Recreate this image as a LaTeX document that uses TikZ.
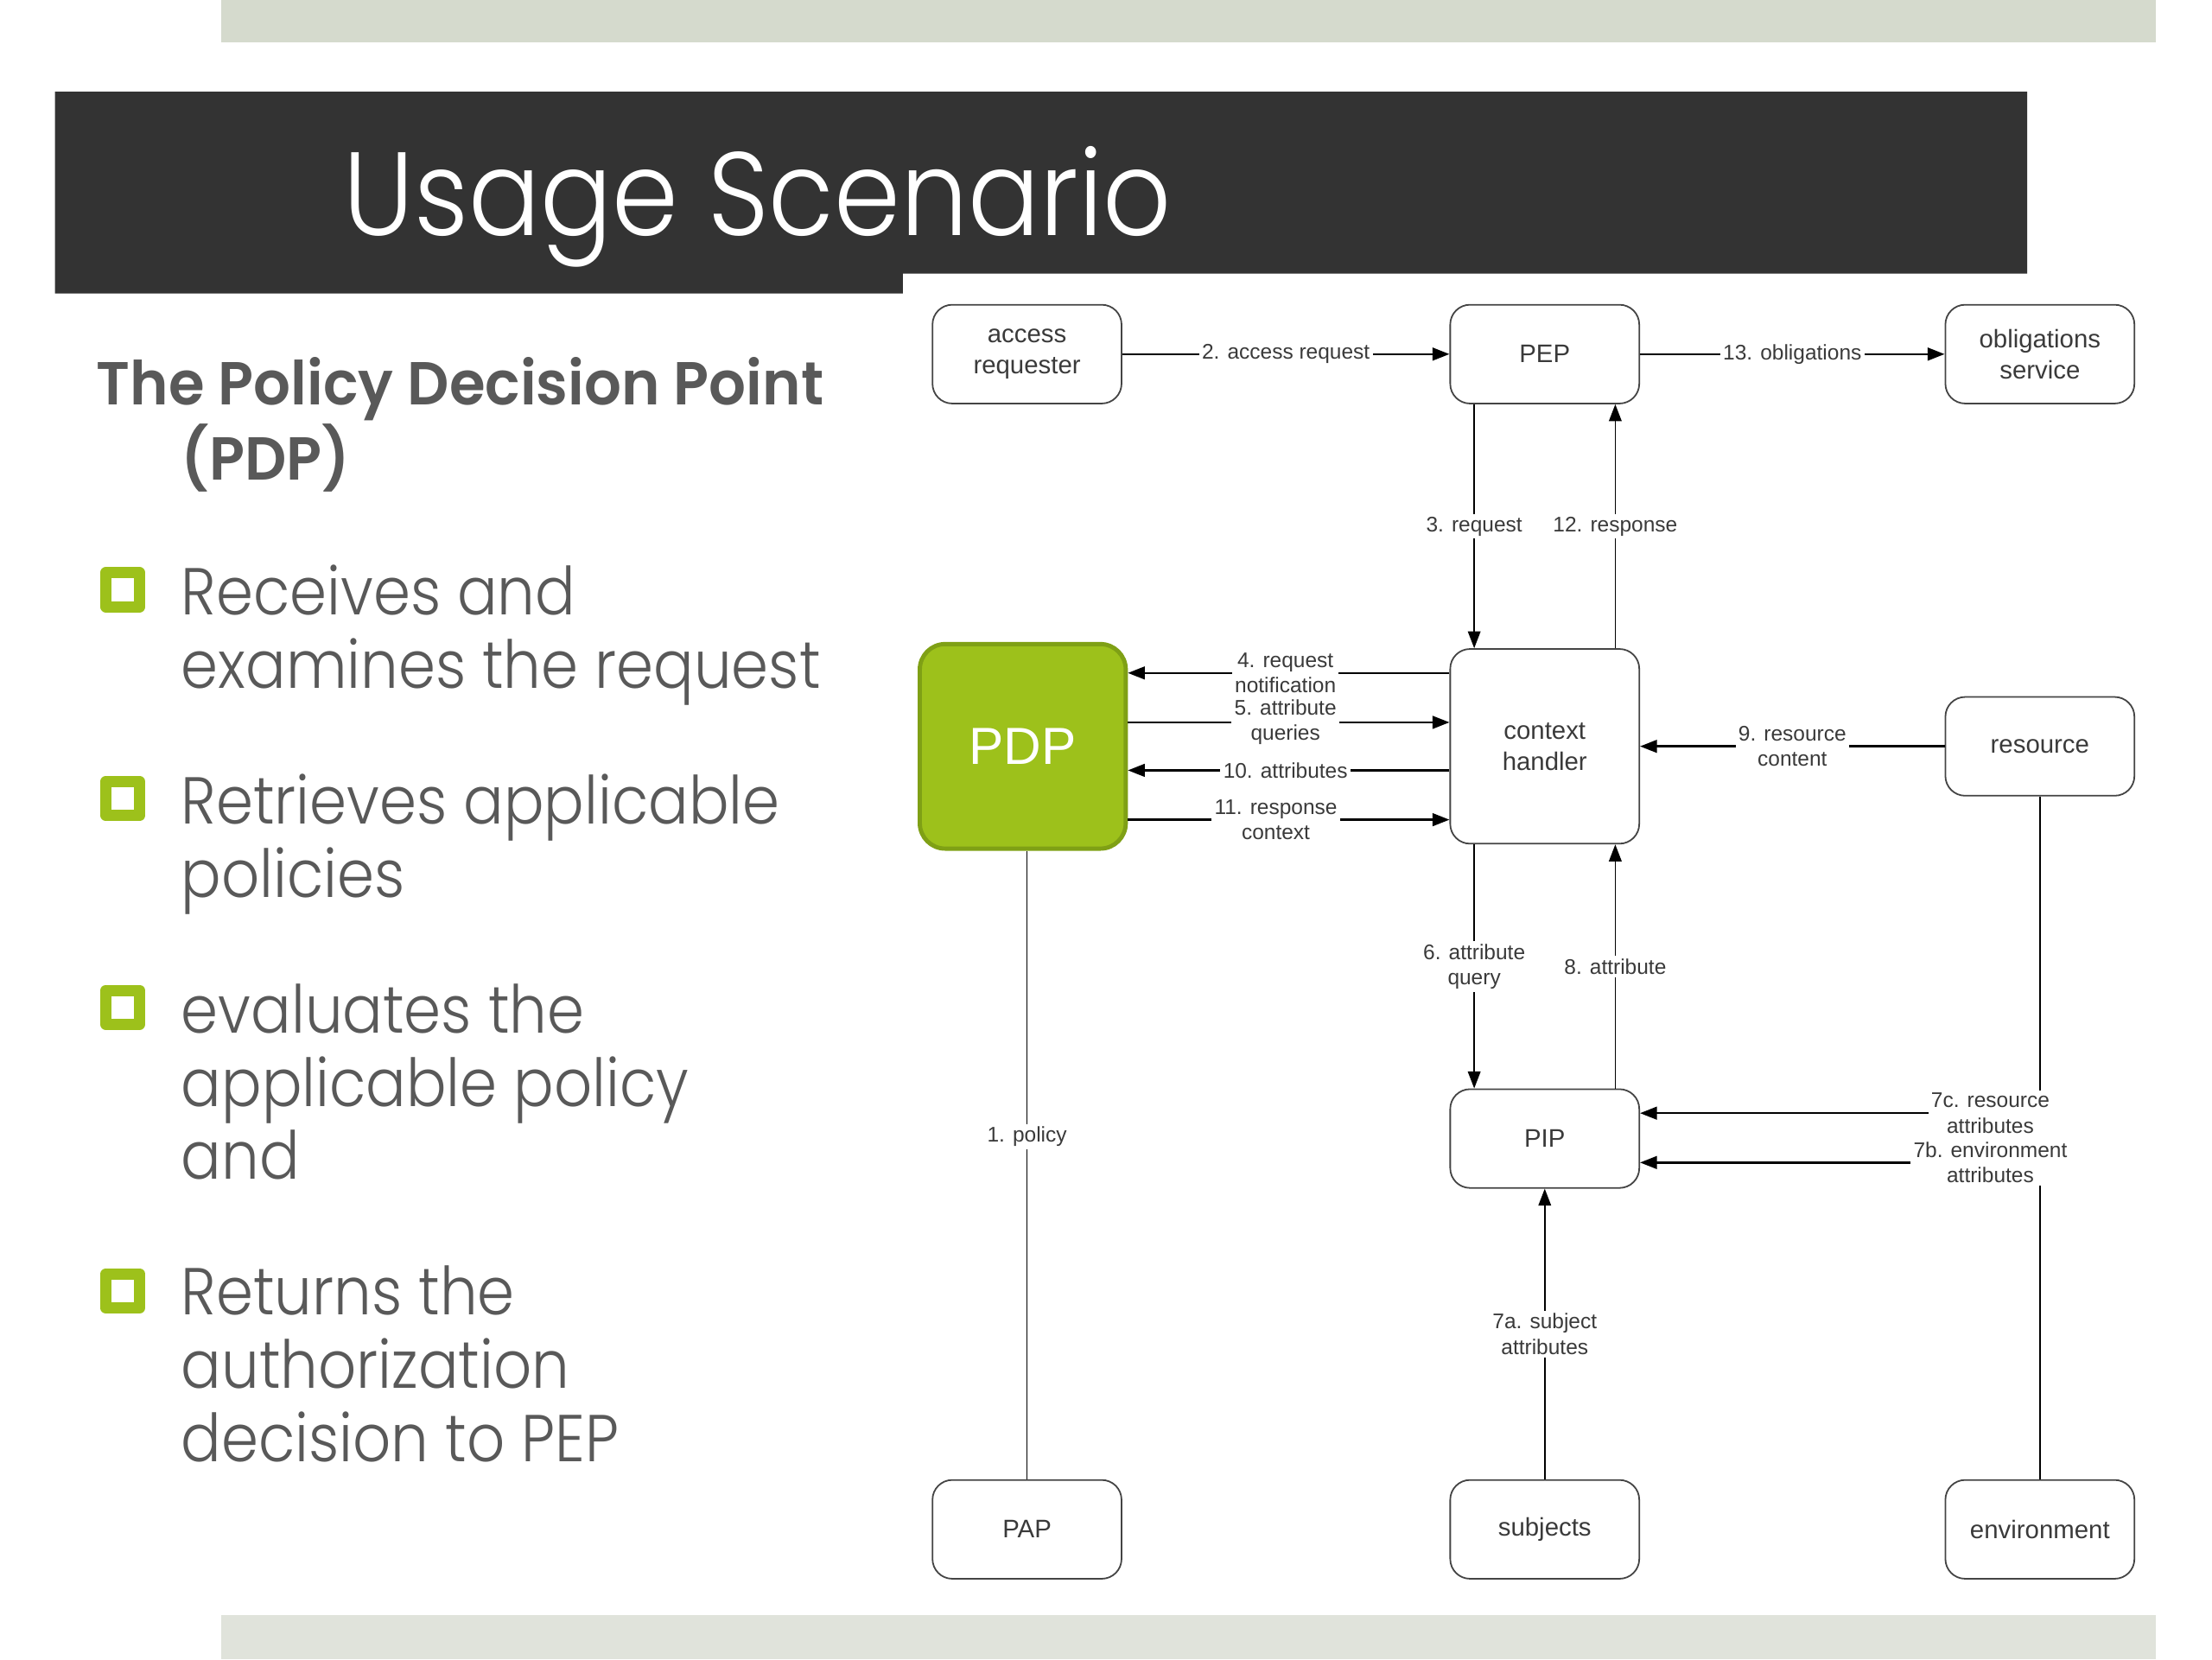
\documentclass[tikz,border=0pt]{standalone}
\usepackage{fontspec}
\setmainfont{Liberation Sans}
\newfontfamily\slidefont[FakeStretch=0.9]{Poppins Light}
\newfontfamily\slidebold[FakeStretch=0.96]{Poppins SemiBold}
\usetikzlibrary{arrows.meta}
\definecolor{barDark}{HTML}{333333}
\definecolor{barTop}{HTML}{D5DACD}
\definecolor{barBottom}{HTML}{E0E3DB}
\definecolor{pdpGreen}{HTML}{9DC11B}
\definecolor{pdpEdge}{HTML}{7FA015}
\definecolor{textGray}{HTML}{595959}
\definecolor{boxGray}{HTML}{444444}
\definecolor{boxText}{HTML}{3A3A3A}
\begin{document}
\begin{tikzpicture}[x=1pt,y=-1pt,>={Triangle[length=12pt,width=9pt]},line join=round,
    box/.style={draw=boxGray,line width=1.1pt,rounded corners=14pt,minimum width=134pt,minimum height=70pt,inner sep=0pt,align=center,text=boxText,font=\fontsize{18}{22}\selectfont},
    lbl/.style={fill=white,inner sep=2pt,align=center,text=boxText,font=\fontsize{15}{18}\selectfont},
    hflow/.style={->,line width=1.5pt,draw=black},
    vflow/.style={->,line width=0.9pt,draw=black},
    bulletbox/.style={draw=pdpGreen,line width=8pt,minimum size=24pt,inner sep=0pt},
    bullettext/.style={anchor=base west,align=left,text=textGray,font=\slidefont\fontsize{47}{52}\selectfont}]
    \useasboundingbox (0,0) rectangle (1568,1176);
    % bars
    \fill[barTop] (157,0) rectangle (1528,30);
    \fill[barBottom] (157,1145) rectangle (1528,1176);
    \fill[barDark] (39,65) -- (1437,65) -- (1437,194) -- (640,194) -- (640,208) -- (39,208) -- cycle;
    \node[anchor=base west,text=white,font=\slidefont\fontsize{84}{90}\selectfont] (title) at (240,167) {Usage Scenario};
    % left text (base = last line)
    \node[anchor=base west,align=left,text=textGray,font=\slidebold\fontsize{43}{53}\selectfont] (head) at (65,340) {The Policy Decision Point\\\hspace*{60pt}(PDP)};
    \foreach \y [count=\i] in {418,566,714,915}
        \node[bulletbox] (b\i) at (87,\y) {};
    \node[bullettext] (t1) at (125,488) {Receives and\\examines the request};
    \node[bullettext] (t2) at (125,636) {Retrieves applicable\\policies};
    \node[bullettext] (t3) at (125,836) {evaluates the\\applicable policy\\and};
    \node[bullettext] (t4) at (125,1036) {Returns the\\authorization\\decision to PEP};
    % diagram
    \node[box] (areq) at (728,251) {access\\requester};
    \node[box] (pep) at (1095,251) {PEP};
    \node[box] (obl) at (1446,251) {obligations\\service};
    \node[box,minimum width=146pt,minimum height=145pt,rounded corners=18pt,fill=pdpGreen,draw=pdpEdge,line width=3pt,text=white,font=\fontsize{37}{40}\selectfont] (pdp) at (725,529) {PDP};
    \node[box,minimum height=138pt] (ctx) at (1095,529) {context\\handler};
    \node[box] (res) at (1446,529) {resource};
    \node[box] (pip) at (1095,807) {PIP};
    \node[box] (pap) at (728,1084) {PAP};
    \node[box] (subj) at (1095,1084) {subjects};
    \node[box] (env) at (1446,1084) {environment};
    % connectors
    \draw[hflow] (areq) -- node[lbl] {2. access request} (pep);
    \draw[hflow] (pep) -- node[lbl] {13. obligations} (obl);
    \draw[vflow] ([xshift=-50pt]pep.south) -- node[lbl] {3. request} ([xshift=-50pt]ctx.north);
    \draw[vflow] ([xshift=50pt]ctx.north) -- node[lbl] {12. response} ([xshift=50pt]pep.south);
    \draw[hflow] ([yshift=52pt]ctx.west) -- node[lbl,pos=0.51] {4. request\\notification} ([yshift=52pt]ctx.west -| pdp.east);
    \draw[hflow] ([yshift=17pt]ctx.west -| pdp.east) -- node[lbl,pos=0.49] {5. attribute\\queries} ([yshift=17pt]ctx.west);
    \draw[hflow] ([yshift=-17pt]ctx.west) -- node[lbl,pos=0.51] {10. attributes} ([yshift=-17pt]ctx.west -| pdp.east);
    \draw[hflow] ([yshift=-52pt]ctx.west -| pdp.east) -- node[lbl,pos=0.46] {11. response\\context} ([yshift=-52pt]ctx.west);
    \draw[hflow] (res) -- node[lbl] {9. resource\\content} (ctx);
    \draw[vflow] ([xshift=-50pt]ctx.south) -- node[lbl] {6. attribute\\query} ([xshift=-50pt]pip.north);
    \draw[vflow] ([xshift=50pt]pip.north) -- node[lbl] {8. attribute} ([xshift=50pt]ctx.south);
    \draw[hflow] (res.south) |- node[lbl,pos=0.562] {7c. resource\\attributes} ([yshift=18pt]pip.east);
    \draw[hflow] (env.north) |- node[lbl,pos=0.562] {7b. environment\\attributes} ([yshift=-17pt]pip.east);
    \draw[vflow] (subj) -- node[lbl] {7a. subject\\attributes} (pip);
    \draw[line width=0.9pt] (pap.north) -- node[lbl,pos=0.545] {1. policy} (pap.north |- pdp.south);
\end{tikzpicture}
\end{document}
